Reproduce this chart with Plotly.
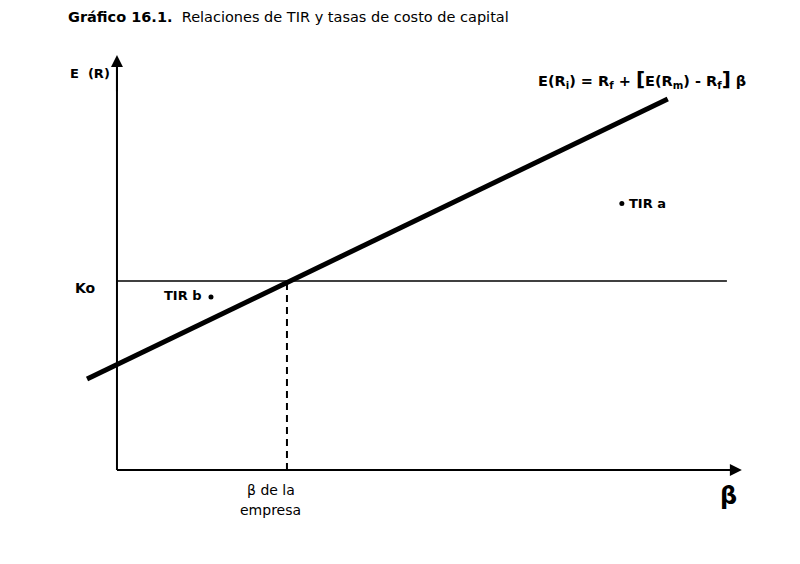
import plotly.graph_objects as go

# --- data (arbitrary units) ---
sml_beta = [-0.176, 3.24]          # security market line endpoints (beta)
sml_er = [4.82, 19.63]             # E(R) at those endpoints
rf = 5.6                           # intercept at beta = 0
ko = 10.0                          # cost of capital Ko
beta_firm = 1.0                    # beta de la empresa
ko_line_end = 3.588
x_axis_end = 3.676
y_axis_end = 21.96
tir_names = ["TIR a", "TIR b"]
tir_beta = [2.97, 0.553]
tir_er = [14.1, 9.15]

FONT = "DejaVu Sans, Liberation Sans, sans-serif"

fig = go.Figure()

# Ko horizontal line
fig.add_trace(go.Scatter(x=[0, ko_line_end], y=[ko, ko], mode="lines",
                         line=dict(color="black", width=1.5), hoverinfo="skip"))
# dashed vertical at beta of the firm
fig.add_trace(go.Scatter(x=[beta_firm, beta_firm], y=[0, ko], mode="lines",
                         line=dict(color="black", width=2, dash="7px,5px"), hoverinfo="skip"))
# SML
fig.add_trace(go.Scatter(x=sml_beta, y=sml_er, mode="lines",
                         line=dict(color="black", width=5), hoverinfo="skip"))
# axes lines
fig.add_trace(go.Scatter(x=[0, 0], y=[0, y_axis_end - 0.3], mode="lines",
                         line=dict(color="black", width=2), hoverinfo="skip"))
fig.add_trace(go.Scatter(x=[0, x_axis_end - 0.03], y=[0, 0], mode="lines",
                         line=dict(color="black", width=2), hoverinfo="skip"))
# TIR points
fig.add_trace(go.Scatter(x=tir_beta, y=tir_er, mode="markers",
                         marker=dict(color="black", size=5), hoverinfo="skip"))

# arrowheads
fig.add_annotation(x=0, y=y_axis_end, ax=0, ay=y_axis_end - 2, xref="x", yref="y",
                   axref="x", ayref="y", showarrow=True, arrowhead=2, arrowsize=1.2,
                   arrowwidth=2, arrowcolor="black", text="")
fig.add_annotation(x=x_axis_end, y=0, ax=x_axis_end - 0.3, ay=0, xref="x", yref="y",
                   axref="x", ayref="y", showarrow=True, arrowhead=2, arrowsize=1.2,
                   arrowwidth=2, arrowcolor="black", text="")

def txt(x, y, s, size=12, bold=True, xanchor="center"):
    fig.add_annotation(x=x, y=y, xref="x", yref="y", text=(f"<b>{s}</b>" if bold else s),
                       showarrow=False, xanchor=xanchor, yanchor="middle",
                       font=dict(family=FONT, size=size, color="black"))

# title (page coords: left 66, centre y 17; page has 8px body margin)
fig.add_annotation(x=58 / 800, y=1 - 9 / 564, xref="paper", yref="paper",
                   text="<b>Gráfico 16.1.</b>  Relaciones de TIR y tasas de costo de capital",
                   showarrow=False, xanchor="left", yanchor="middle",
                   font=dict(family=FONT, size=14.5, color="black"))
txt(-0.03, 21.0, "E&nbsp;&nbsp;(R)", size=13, xanchor="right")
txt(-0.11, ko - 0.35, "Ko", size=14, xanchor="right")
txt(tir_beta[0] + 0.03, tir_er[0], tir_names[0], size=13, xanchor="left")
txt(tir_beta[1] - 0.04, tir_er[1] + 0.1, tir_names[1], size=13, xanchor="right")
txt(beta_firm - 0.094, -1.05, "β de la", size=14, bold=False)
txt(beta_firm - 0.094, -2.1, "empresa", size=14, bold=False)
txt(3.6, -1.4, "β", size=24)
txt(3.71, 20.7,
    "E(R<sub>i</sub>) = R<sub>f</sub> + <span style='font-size:20px'>[</span>E(R<sub>m</sub>) - R<sub>f</sub><span style='font-size:20px'>]</span> β",
    size=14.5, xanchor="right")

fig.update_layout(
    width=800, height=564, margin=dict(l=0, r=0, t=0, b=0),
    paper_bgcolor="white", plot_bgcolor="white", showlegend=False,
    xaxis=dict(range=[-0.641, 4.065], visible=False, fixedrange=True),
    yaxis=dict(range=[-5.397, 24.444], visible=False, fixedrange=True),
)
fig.write_html("out.html")
